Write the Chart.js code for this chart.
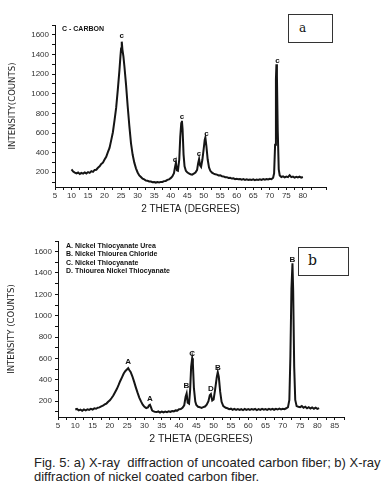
<!DOCTYPE html>
<html>
<head>
<meta charset="utf-8">
<script src="https://cdn.jsdelivr.net/npm/chart.js"></script>
<style>
  body { margin: 0; background: #fff; width: 392px; height: 493px; position: relative; overflow: hidden; }
  .panel { position: absolute; left: 0; width: 392px; }
  .tag { position: absolute; border: 1px solid #333; background: #fff; box-sizing: border-box;
         font-family: 'DejaVu Serif', serif; color: #111; }
  .caption { position: absolute; left: 34px; top: 456px; font: 13px 'Liberation Sans', Arial, sans-serif;
             color: #222; line-height: 14px; white-space: pre; }
</style>
</head>
<body>
<div class="panel" style="top:0;height:220px"><canvas id="chartA"></canvas></div>
<div class="panel" style="top:220px;height:230px"><canvas id="chartB"></canvas></div>
<div class="tag" style="left:288px;top:14px;width:45px;height:29px;font-size:12px;padding:6px 0 0 10px">a</div>
<div class="tag" style="left:298px;top:247px;width:51px;height:29px;font-size:14px;padding:4px 0 0 9px">b</div>
<div class="caption">Fig. 5: a) X-ray  diffraction of uncoated carbon fiber; b) X-ray
diffraction of nickel coated carbon fiber.</div>
<script>

    // (a) uncoated carbon fiber
    const anglesA = [10,10.5,11,11.5,12,12.5,13,13.5,14,14.5,15,15.5,16,16.5,17,17.5,18,18.5,19,19.5,
        20,20.5,21,21.5,22,22.5,23,23.5,24,24.5,24.8,25.0,25.2,25.4,25.7,26,26.5,27,27.5,28,28.5,29,29.5,
        30,30.5,31,31.5,32,32.5,33,33.5,34,34.5,35,35.5,36,36.5,37,37.5,38,38.5,39,39.5,
        40,40.5,41,41.3,41.6,41.9,42.2,42.6,42.9,43.2,43.4,43.6,43.9,44.2,44.6,45,45.5,46,46.5,47,47.5,
        48,48.3,48.6,48.9,49.2,49.6,50,50.3,50.5,50.8,51.2,51.6,52,52.5,53,53.5,54,54.5,
        55,55.5,56,56.5,57,57.5,58,58.5,59,59.5,60,60.5,61,61.5,62,62.5,63,63.5,64,64.5,
        65,65.5,66,66.5,67,67.5,68,68.5,69,69.5,70,70.5,71,71.3,71.6,71.85,72.0,72.15,72.4,72.7,
        73,73.5,74,74.5,75,75.5,76,76.5,77,77.5,78,78.5,79,79.5,80];
    const countsA = [230,208,196,188,197,183,194,186,199,188,202,194,212,204,224,226,246,260,284,298,
        330,358,405,448,525,605,725,855,1040,1240,1380,1460,1530,1450,1380,1280,1090,870,670,495,378,298,240,
        198,168,152,134,127,116,113,106,106,99,100,95,100,96,102,101,110,112,122,128,
        140,158,190,250,300,220,215,330,560,700,725,640,380,260,215,200,188,180,176,186,198,
        225,290,335,270,255,330,440,530,555,470,330,250,215,196,186,180,176,168,
        170,160,158,150,150,142,144,136,138,130,134,128,131,124,130,122,128,121,127,122,
        128,120,127,122,129,122,130,124,131,126,133,130,145,190,480,1150,1300,1180,620,230,
        168,152,158,148,156,150,170,150,156,146,154,148,156,146,152];
    const peakPosA = [[25.2, 1595], [41.3, 325], [43.4, 765], [48.6, 392], [50.8, 595], [72.3, 1340]];
    const peakTextA = ['c', 'c', 'c', 'c', 'c', 'c'];
    const legendA = ['C - CARBON'];

    // (b) nickel coated carbon fiber
    const anglesB = [10,10.5,11,11.5,12,12.5,13,13.5,14,14.5,15,15.5,16,16.5,17,17.5,18,18.5,19,19.5,
        20,20.5,21,21.5,22,22.5,23,23.5,24,24.5,25,25.3,25.6,26,26.5,27,27.5,28,28.5,29,29.5,
        30,30.5,31,31.3,31.6,31.9,32.2,32.5,33,33.5,34,34.5,35,35.5,36,36.5,37,37.5,38,38.5,39,39.5,
        40,40.5,41,41.5,41.9,42.2,42.5,42.9,43.2,43.5,43.8,44.0,44.3,44.7,45,45.5,46,46.5,47,47.5,
        48,48.5,48.9,49.2,49.6,50,50.4,50.9,51.2,51.5,51.9,52.3,52.8,53.5,54,54.5,
        55,55.5,56,56.5,57,57.5,58,58.5,59,59.5,60,60.5,61,61.5,62,62.5,63,63.5,64,64.5,
        65,65.5,66,66.5,67,67.5,68,68.5,69,69.5,70,70.5,71,71.5,71.9,72.2,72.5,72.8,73.0,73.3,73.6,
        74,74.5,75,75.5,76,76.5,77,77.5,78,78.5,79,79.5,80,80.5];
    const countsB = [120,126,112,119,108,121,113,122,116,126,120,131,127,137,140,150,156,168,176,193,
        207,228,252,282,312,348,388,422,458,482,498,508,490,472,432,382,328,278,232,196,166,
        146,134,140,158,165,140,112,106,98,96,102,92,100,94,101,96,104,97,106,103,112,110,
        122,124,136,160,240,272,185,175,300,520,600,550,320,195,162,146,142,136,142,148,
        165,198,255,265,205,215,300,420,470,425,285,192,152,136,132,124,
        128,118,126,117,124,116,123,115,125,117,124,116,125,118,126,115,124,117,126,118,
        125,117,126,119,127,118,126,120,128,121,128,124,132,142,210,620,1250,1490,1240,520,210,
        152,146,142,152,136,146,132,142,130,140,128,138,126,134];
    const peakPosB = [[25.3, 568], [31.6, 219], [42.1, 343], [43.8, 638], [49.2, 312], [51.2, 512], [72.8, 1521]];
    const peakTextB = ['A', 'A', 'B', 'C', 'D', 'B', 'B'];
    const legendB = ['A. Nickel Thiocyanate Urea', 'B. Nickel Thiourea Chloride',
        'C. Nickel Thiocyanate', 'D. Thiourea Nickel Thiocyanate'];

    // y ticks: every 100 counts, labelled every 200
    const yTickValues = [100,200,300,400,500,600,700,800,900,1000,1100,1200,1300,1400,1500,1600,1700];
    const yLabelled = [200, 400, 600, 800, 1000, 1200, 1400, 1600];

    const annotate = {
        id: 'annotate',
        afterDatasetsDraw(chart, args, opts) {
            const {ctx, chartArea, scales: {x, y}} = chart
            ctx.save()
            ctx.fillStyle = '#111'
            ctx.textAlign = 'center'
            ctx.textBaseline = 'middle'
            ctx.font = opts.peakFont
            opts.pos.forEach((p, i) => {
                ctx.fillText(opts.texts[i], x.getPixelForValue(p[0]), y.getPixelForValue(p[1]))
            })
            ctx.textAlign = 'left'
            ctx.font = opts.legendFont
            opts.legend.forEach((t, i) => {
                ctx.fillText(t, chartArea.left + opts.lx, chartArea.top + opts.ly + i * opts.gap)
            })
            ctx.restore()
        }
    };

    function makeChart(id, angles, counts, o) {
        const points = angles.map((a, i) => ({x: a, y: counts[i]}))
        return new Chart(document.getElementById(id), {
            type: 'line',
            data: {
                datasets: [{
                    data: points,
                    borderColor: '#151515',
                    borderWidth: 2,
                    pointRadius: 0,
                    tension: 0,
                }]
            },
            options: {
                responsive: true,
                maintainAspectRatio: false,
                animation: false,
                layout: { padding: { top: o.top, right: o.right, left: 0, bottom: 0 } },
                plugins: {
                    legend: { display: false },
                    tooltip: { enabled: false },
                    annotate: {
                        pos: o.pos, texts: o.texts, legend: o.legend,
                        peakFont: 'bold 8px "Liberation Sans", Arial',
                        legendFont: 'bold 7px "Liberation Sans", Arial',
                        lx: o.lx, ly: o.ly, gap: 8.3,
                    },
                },
                scales: {
                    x: {
                        type: 'linear',
                        min: 5,
                        max: o.xmax,
                        afterFit(s) { s.height = 33 },
                        border: { color: '#111', width: 1 },
                        grid: { drawOnChartArea: false, color: '#111', tickLength: 3 },
                        ticks: {
                            stepSize: 2.5,
                            autoSkip: false,
                            maxRotation: 0,
                            padding: 1,
                            color: '#333',
                            font: { family: 'Liberation Sans', size: 8 },
                            callback: v => (v % 5 === 0 ? v : ''),
                        },
                        title: {
                            display: true,
                            text: '2 THETA (DEGREES)',
                            color: '#222',
                            font: { family: 'Liberation Sans', size: o.xtSize },
                            padding: 5,
                        },
                    },
                    y: {
                        min: 50,
                        max: 1700,
                        afterFit(s) { s.width = o.left },
                        afterBuildTicks(s) { s.ticks = yTickValues.map(v => ({value: v})) },
                        border: { color: '#111', width: 1 },
                        grid: { drawOnChartArea: false, color: '#111', tickLength: 3 },
                        ticks: {
                            autoSkip: false,
                            padding: 3,
                            color: '#333',
                            font: { family: 'Liberation Sans', size: 8 },
                            callback: v => (yLabelled.includes(v) ? v : ''),
                        },
                        title: {
                            display: true,
                            text: o.ytitle,
                            color: '#222',
                            font: { family: '"DejaVu Sans Condensed", "Liberation Sans"', size: 9.5 },
                            padding: { top: o.ytPad, bottom: 0 },
                        },
                    },
                },
            },
            plugins: [annotate],
        })
    }

    makeChart('chartA', anglesA, countsA, {
        top: 25, right: 66, left: 55, xmax: 87, xtSize: 10,
        ytitle: 'INTENSITY(COUNTS)', ytPad: 7,
        pos: peakPosA, texts: peakTextA, legend: legendA, lx: 7, ly: 4,
    })

    makeChart('chartB', anglesB, countsB, {
        top: 21, right: 48, left: 58, xmax: 87.7, xtSize: 10.5,
        ytitle: 'INTENSITY (COUNTS)', ytPad: 6,
        pos: peakPosB, texts: peakTextB, legend: legendB, lx: 8, ly: 5,
    })
</script>
</body>
</html>
